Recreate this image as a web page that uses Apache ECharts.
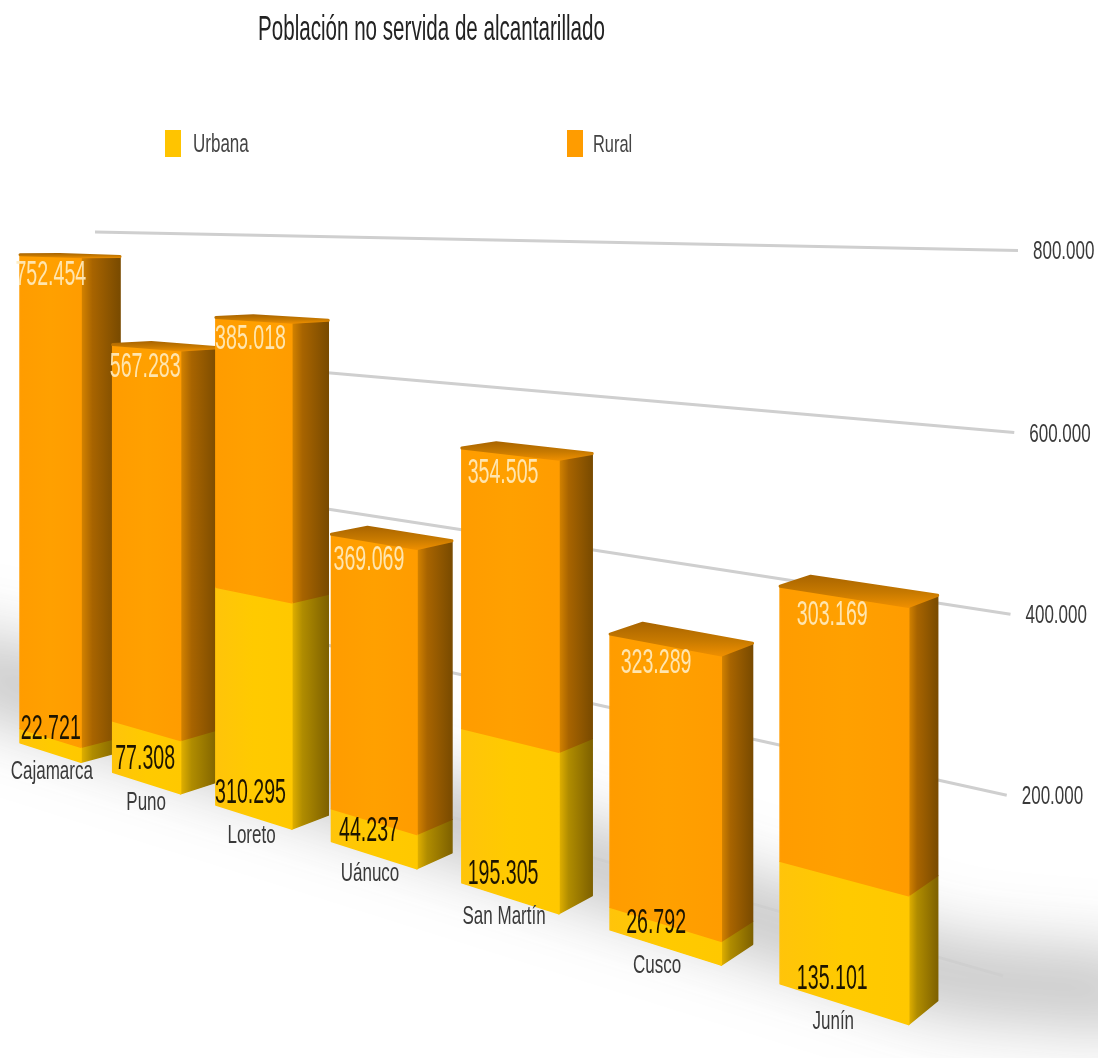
<!DOCTYPE html>
<html><head><meta charset="utf-8">
<style>html,body{margin:0;padding:0;background:#fff}#c{width:1098px;height:1058px;filter:blur(.6px)}</style>
<script src="https://cdn.jsdelivr.net/npm/echarts@6/dist/echarts.min.js"></script>
</head><body><div id="c"></div>
<script>
const categories = ['Cajamarca','Puno','Loreto','Uánuco','San Martín','Cusco','Junín'];
const urbana = [22721,77308,310295,44237,195305,26792,135101];
const rural = [752454,567283,385018,369069,354505,323289,303169];
const urbanaLabels = ['22.721','77.308','310.295','44.237','195.305','26.792','135.101'];
const ruralLabels = ['752.454','567.283','385.018','369.069','354.505','323.289','303.169'];
const tickValues = [0,200000,400000,600000,800000];
const tickLabels = ['','200.000','400.000','600.000','800.000'];
const FONT = '"Liberation Sans",Arial,sans-serif';

// Perspective camera: a flat, hidden cartesian grid is projected toward a vanishing point
const VP = [-1705,196], A = 5.797e-4, B = 0.2955e-4;
const FRONT = {s0:.317,s1:.000365}, BACK = {s0:.3045,s1:.00035,back:true}, WALL = {s0:.288,s1:.000335};
const flatLeft = 0, flatTop = 100, flatW = 700, flatH = 800;
function depth(X){ return 1/(A-B*((X-flatLeft-16)/100)); }
function proj(pt,pl,r){
  const k = flatTop+flatH-pt[1];
  let rr = r===undefined?depth(pt[0]):r;
  if(pl.back) rr += 39-(rr-1787)*.0121;
  return [VP[0]+rr, VP[1]+rr*(pl.s0-pl.s1*k)];
}
const grad = (stops,x2,y2)=>({type:'linear',x:0,y:0,x2:x2,y2:y2,colorStops:stops.map(c=>({offset:c[0],color:c[1]}))});
const PAL = {
  urbana:{face:grad([[0,'#FFC40A'],[.5,'#FFCA00'],[1,'#FFC800']],1,0),side:grad([[0,'#E6B400'],[.3,'#B08C00'],[1,'#7D6000']],1,0),top:'#D9A800'},
  rural:{face:grad([[0,'#FF9C00'],[.5,'#FFA000'],[1,'#FF9C00']],1,0),side:grad([[0,'#D98600'],[.3,'#A86400'],[1,'#784A00']],1,0),top:grad([[0,'#A86400'],[.55,'#C87A00'],[1,'#F09000']],0,1)}
};
function barItem(pal,isTop,values,bases,labels,labelColor){
  return function(params,api){
    const i=api.value(0), v=values[i], b=bases[i];
    const c0=api.coord([i,b]), c1=api.coord([i,b+v]);
    const w=api.size([1,0])[0]*.33;
    const L=c0[0]-api.size([1,0])[0]*.34, R=c0[0]+w, y0=c0[1], y1=c1[1];
    const fl0=proj([L,y0],FRONT),fr0=proj([R,y0],FRONT),fl1=proj([L,y1],FRONT),fr1=proj([R,y1],FRONT);
    const br0=proj([R,y0],BACK),br1=proj([R,y1],BACK),bl1=proj([L,y1],BACK);
    const z=(i+1)*10;
    const kids=[
      {type:'polygon',z2:z,shape:{points:[fr0,br0,br1,fr1]},style:{fill:pal.side,stroke:pal.side,lineWidth:1.5,lineJoin:'round'}},
      {type:'polygon',z2:z+1,shape:{points:[fl0,fr0,fr1,fl1]},style:{fill:pal.face,stroke:pal.face,lineWidth:1.5,lineJoin:'round'}}
    ];
    if(isTop) kids.push({type:'polygon',z2:z+2,shape:{points:[fl1,fr1,br1,bl1]},style:{fill:pal.top,stroke:pal.top,lineWidth:3,lineJoin:'round'}});
    const mid=c0[0]-4;
    const anchor=isTop?proj([mid,y1],FRONT):proj([mid,y0],FRONT);
    const lx=anchor[0]+4-i*1.3;
    kids.push({type:'text',z2:5000,x:lx,y:anchor[1]+(isTop?20:-22),scaleY:1.8,
      style:{text:labels[i],fontSize:19.6,fontFamily:FONT,fill:labelColor,align:'center',verticalAlign:'middle'}});
    if(!isTop) kids.push({type:'text',z2:5000,x:lx+1,y:anchor[1]+21,scaleY:1.47,
      style:{text:categories[i],fontSize:17,fontFamily:FONT,fill:'#3a3a3a',align:'center',verticalAlign:'middle'}});
    return {type:'group',children:kids};
  };
}
const opt={
  animation:false,
  backgroundColor:'#fff',
  grid:{left:flatLeft,top:flatTop,width:flatW,height:flatH},
  xAxis:{type:'category',data:categories,show:false},
  yAxis:{type:'value',min:0,max:800000,interval:200000,show:false},
  legend:{data:['Urbana','Rural'],left:160,top:125,orient:'horizontal',icon:'rect',itemWidth:16,itemHeight:27,itemGap:386,
    formatter:()=>'',selectedMode:false,textStyle:{fontSize:1}},
  graphic:{elements:[
    {type:'polyline',silent:true,z:0,shape:{points:[[-60,-1340],[950,-1022],[1160,-1005]]},
      style:{stroke:'#8a8a8a',lineWidth:42,fill:null,shadowColor:'rgba(135,135,135,.85)',shadowBlur:75,shadowOffsetY:2000}},
    {type:'text',x:258,y:30,scaleY:1.7,style:{text:'Población no servida de alcantarillado',fontSize:20.6,fontFamily:FONT,fill:'#222',verticalAlign:'middle'}},
    {type:'text',x:193,y:145,scaleY:1.5,style:{text:'Urbana',fontSize:17,fontFamily:FONT,fill:'#444',verticalAlign:'middle'}},
    {type:'text',x:593,y:145,scaleY:1.5,style:{text:'Rural',fontSize:16.4,fontFamily:FONT,fill:'#444',verticalAlign:'middle'}}
  ]},
  series:[
    {type:'custom',name:'Eje',silent:true,data:tickValues.map((v,i)=>[0,v,i]),encode:{x:0,y:1},clip:false,
      renderItem(params,api){
        const v=api.value(1), i=api.value(2), Y=api.coord([0,v])[1];
        const rEnd=2708+v/800000*15;
        const p0=proj([0,Y],WALL,1800), p1=proj([0,Y],WALL,rEnd);
        const kids=[{type:'line',z2:1,shape:{x1:p0[0],y1:p0[1],x2:p1[0],y2:p1[1]},style:{stroke:'#cfcfcf',lineWidth:3}}];
        if(tickLabels[i]) kids.push({type:'text',z2:5,x:p1[0]+15,y:p1[1]+2,scaleY:1.5,
          style:{text:tickLabels[i],fontSize:17,fontFamily:FONT,fill:'#3a3a3a',verticalAlign:'middle'}});
        return {type:'group',children:kids};
      }},
    {type:'custom',name:'Urbana',silent:true,clip:false,itemStyle:{color:'#FFC400'},data:urbana.map((v,i)=>[i,v]),encode:{x:0,y:1},
      renderItem:barItem(PAL.urbana,false,urbana,urbana.map(()=>0),urbanaLabels,'#1c1400')},
    {type:'custom',name:'Rural',silent:true,clip:false,itemStyle:{color:'#FF9C00'},data:rural.map((v,i)=>[i,v]),encode:{x:0,y:1},
      renderItem:barItem(PAL.rural,true,rural,urbana,ruralLabels,'rgba(255,236,190,.92)')}
  ]
};
const chart=echarts.init(document.getElementById('c'),null,{renderer:'canvas'});
chart.setOption(opt);
</script></body></html>
